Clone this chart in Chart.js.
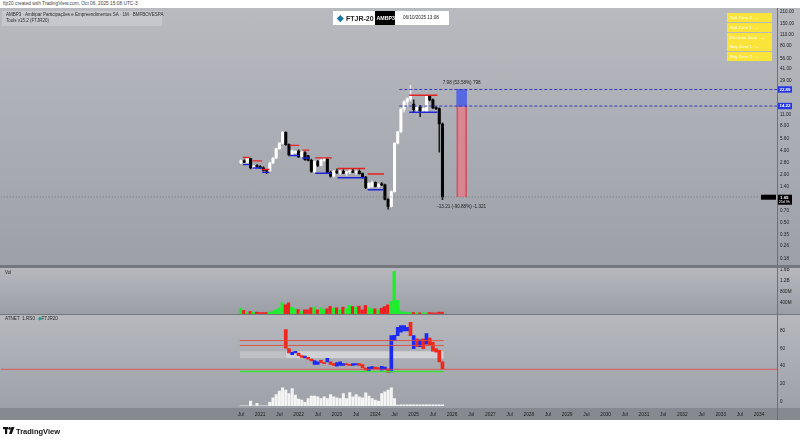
<!DOCTYPE html>
<html><head><meta charset="utf-8">
<script src="https://cdn.jsdelivr.net/npm/chart.js@4.4.1/dist/chart.umd.min.js"></script>
<style>
html,body{margin:0;padding:0;}
body{width:800px;height:442px;position:relative;overflow:hidden;background:#fff;font-family:"Liberation Sans",Arial,sans-serif;}
#frame{position:absolute;left:0;top:8px;width:800px;height:412px;background:#76787f;}
canvas{position:absolute;left:0;display:block;}
#cMain{top:8px;background:linear-gradient(#b8bac0,#9da0a7);}
#cVol{top:268px;background:linear-gradient(#b6b8be,#9b9ea5);}
#cInd{top:315px;background:linear-gradient(#b6b8be 0px,#9ea1a8 93px,#86898f 93px,#86898f 105px);}
.t{position:absolute;white-space:nowrap;line-height:1;}
#axisline{position:absolute;left:777px;top:408px;width:1px;height:12px;background:#6c6f76;}
.yz{position:absolute;left:727px;width:45px;height:9px;background:#fbe43a;color:#fff;font-size:4.3px;line-height:9px;padding-left:3px;box-sizing:border-box;}
</style></head><body>
<div id="frame"></div>
<canvas id="cMain" width="800" height="257" style="width:800px;height:257px"></canvas>
<canvas id="cVol" width="800" height="46" style="width:800px;height:46px"></canvas>
<canvas id="cInd" width="800" height="105" style="width:800px;height:105px"></canvas>
<div id="axisline"></div>

<div class="t" style="left:3px;top:1.5px;font-size:4.8px;color:#444;">ftjr20 created with TradingView.com, Oct 06, 2025 15:08 UTC-3</div>
<div style="position:absolute;left:2px;top:11px;width:160px;height:15px;background:rgba(255,255,255,0.22);"></div>
<div class="t" style="left:6px;top:13px;font-size:4.5px;color:#2a2a2a;">AMBP3 · Ambipar Participações e Empreendimentos SA · 1M · BMFBOVESPA</div>
<div class="t" style="left:6px;top:19px;font-size:4.5px;color:#2a2a2a;">Tools v15.2 (FTJR20)</div>

<div style="position:absolute;left:333px;top:11px;width:42px;height:14px;background:#fff;"></div>
<div style="position:absolute;left:338px;top:15.5px;width:4.5px;height:4.5px;background:#1b7aa3;transform:rotate(45deg);"></div>
<div class="t" style="left:346px;top:14.5px;font-size:7px;font-weight:bold;color:#222;">FTJR-20</div>
<div style="position:absolute;left:375px;top:11px;width:20px;height:14px;background:#000;"></div>
<div class="t" style="left:376.5px;top:15.5px;font-size:5.3px;font-weight:bold;color:#fff;">AMBP3</div>
<div style="position:absolute;left:395px;top:11px;width:54px;height:14px;background:#fff;"></div>
<div class="t" style="left:403px;top:16px;font-size:4.6px;color:#222;">06/10/2025 13:08</div>

<div class="yz" style="top:13px;">Sell Zone 2 : --</div>
<div class="yz" style="top:23px;">Sell Zone 1 : --</div>
<div class="yz" style="top:32.5px;">Decision Zone : --</div>
<div class="yz" style="top:42px;">Buy Zone 1 : --</div>
<div class="yz" style="top:52px;">Buy Zone 2 : --</div>

<div class="t" style="left:5px;top:271px;font-size:4.6px;color:#2a2a2a;">Vol</div>
<div class="t" style="left:5px;top:317px;font-size:4.6px;color:#2a2a2a;">ATNET &nbsp;1.RS0 &nbsp;<span style="color:#1b9a8a;">◆</span>FTJR20</div>

<svg style="position:absolute;left:3px;top:427px;" width="12" height="8" viewBox="0 0 12 8"><rect x="0" y="0" width="5" height="2.2" fill="#111"/><rect x="2" y="0" width="2.2" height="7" fill="#111"/><circle cx="6.6" cy="1.4" r="1.3" fill="#111"/><polygon points="8.5,0 11.5,0 8.8,7 6,7" fill="#111"/></svg>
<div class="t" style="left:16px;top:427.5px;font-size:7.5px;font-weight:bold;color:#111;">TradingView</div>

<script>
// ---------- DATA ----------
const firstMonth = 6; // Jul 2020 (months since Jan 2020)
const open  = [2.78,2.95,2.85,3.15,2.42,2.55,2.50,2.42,2.25,2.22,2.78,3.20,4.20,4.90,6.70,4.70,3.50,3.72,3.90,3.35,3.75,3.40,3.00,2.18,2.90,2.60,3.00,3.10,2.12,1.90,2.20,2.10,2.18,2.08,2.15,2.20,2.12,2.18,2.05,1.85,1.38,1.42,1.60,1.42,1.50,1.48,0.98,0.80,1.22,4.90,6.80,13.0,16.0,17.5,15.0,12.8,13.8,12.5,12.2,19.0,17.0,13.5,13.2,8.50];
const high  = [3.05,3.05,3.30,3.20,2.60,2.65,2.58,2.48,2.30,2.85,3.25,4.25,4.95,6.90,6.80,4.80,4.05,3.95,4.05,3.90,3.85,3.45,3.10,2.95,3.00,3.10,3.24,3.15,2.20,2.25,2.35,2.25,2.30,2.20,2.30,2.35,2.25,2.28,2.10,1.90,1.58,1.65,1.62,1.55,1.58,1.52,1.00,1.25,4.95,6.90,13.5,16.8,18.0,25.8,17.0,14.5,14.5,13.5,19.5,19.4,17.5,14.0,13.5,8.80];
const low   = [2.72,2.80,2.80,2.35,2.35,2.45,2.38,2.20,2.05,2.18,2.70,3.15,4.10,4.80,4.60,3.40,3.40,3.65,3.25,3.30,3.00,2.95,2.12,2.10,2.50,2.55,2.90,2.08,1.85,1.85,2.05,2.00,2.05,1.95,2.05,2.10,2.00,2.02,1.80,1.33,1.35,1.38,1.40,1.38,1.45,0.96,0.74,0.78,1.20,4.80,6.60,12.0,14.0,16.5,12.0,11.8,10.5,11.8,12.0,16.5,13.2,12.8,3.80,0.97];
const close = [2.98,2.85,3.20,2.42,2.55,2.50,2.42,2.25,2.20,2.78,3.20,4.20,4.90,6.70,4.70,3.50,3.95,3.88,3.30,3.80,3.05,3.00,2.18,2.90,2.60,3.00,3.10,2.12,1.90,2.20,2.10,2.18,2.08,2.15,2.20,2.12,2.18,2.05,1.85,1.38,1.55,1.60,1.42,1.50,1.48,0.98,0.80,1.22,4.90,6.80,13.0,16.0,17.5,19.0,12.8,13.8,12.5,13.2,19.0,17.0,13.5,13.2,8.50,1.05];
const volumeM = [194,109,48,73,48,48,36,36,36,48,73,133,194,388,316,388,230,170,145,73,133,133,206,230,133,206,145,170,255,194,206,133,230,170,291,255,230,267,133,291,206,170,170,133,194,255,316,437,1529,473,73,48,48,36,36,36,24,24,24,36,24,24,48,48];
const oscOpen  = [null,null,null,null,null,null,null,null,null,null,null,null,null,null,81.5,60,53,55,55,52,49.5,50,48,42,42,46.6,44,45,45,43,40,41,41,43,42,41,41.5,43,42,38,35,37,39,38.5,35.5,36,37,33.5,69,74.7,78.5,80,80,89.7,60,71,62,71,65,72,67,60,58,45];
const oscClose = [null,null,null,null,null,null,null,null,null,null,null,null,null,null,60.5,55,56,57,52,50,51.5,48,46,46.5,45,44,43,49,42,41,44,45,43,41.5,41,43,43,41,38,35.5,39,39.5,37,37,40,39,33,74.7,75,84,86,86,84,74.7,74.7,62,70,60,77,64,57,56,45,37];
const histo = [0,0,0,4.7,0,2.3,0,0,0,3.3,8,11.3,14.7,18,15.7,12.3,17.3,10.7,6.7,5.7,3.3,7.3,9.7,9.7,9,7.3,9,7.3,11.3,9,8,7.3,12.3,7.3,13.3,9,11.3,9,8,13,9.7,7.3,5.7,4.7,12.3,14,15.7,18,7.3,0.7,1,1,1,1,1,1,1,1,1,1,1,1,1,1];
const priceTicks = [210,150,110,80,56,41,29,11,8,5.6,4,2.8,2,1.4,0.7,0.5,0.35,0.26,0.18];
const volTicks = [400,800,1200,1600];
const oscTicks = [0,20,40,60,80];
const xTickVals = []; for (let m = 6; m <= 168; m += 6) xTickVals.push(m);
// support/resistance zones (candle index ranges)
const zoneStart  = [1.0,4.0,7.0,15.6,19.6,23.6,30.6,40.0,53.0];
const zoneEnd    = [2.3,6.2,8.5,17.8,21.0,28.0,38.4,44.3,61.0];
const zoneTop    = [3.25,2.95,2.30,4.60,4.02,3.22,2.37,2.03,19.4];
const zoneBottom = [2.65,2.41,2.12,3.45,3.20,2.07,1.82,1.29,11.9];
const levels = [22.89,14.22];
const levelStartIdx = 50;
const projMonth = 75;
const projUpText = '7.98 (53.58%) 798';
const projDownText = '-13.21 (-90.88%) -1.321';
const countdown = '25d 9h';
const oscUpperLines = [69,63.5];
const oscBandLo = 49, oscBandHi = 57, oscBandSplit = 14;
const oscGreenLevel = 34, oscRedLevel = 36.5;

// ---------- HELPERS ----------
const X_MIN = -69.14, X_MAX = 173.6;
const N = open.length;
const xs = open.map((_, i) => firstMonth + i);
const up = open.map((o, i) => close[i] >= o);
const F = '"Liberation Sans", Arial, sans-serif';
const noAnim = {responsive:false, animation:false, devicePixelRatio:1, events:[],
  layout:{padding:0}, plugins:{legend:{display:false}, tooltip:{enabled:false}}};
function hiddenX(){ return {type:'linear', min:X_MIN, max:X_MAX, offset:false, display:false}; }
function rightY(extra){
  return Object.assign({position:'right', offset:false,
    afterFit:s => { s.width = 23; s.paddingTop = 0; s.paddingBottom = 0; },
    grid:{display:false, drawTicks:false}, border:{display:true, color:'#6c6f76', width:1},
    ticks:{autoSkip:false, padding:3, color:'#1c1c1c', font:{family:F, size:4.6}}}, extra);
}
function seg(x0, x1, y, color, w, dash, order){
  return {type:'line', data:[{x:x0,y:y},{x:x1,y:y}], borderColor:color, borderWidth:w,
    borderDash:dash||[], pointRadius:0, fill:false, order:order||1, tension:0};
}

// ---------- MAIN PRICE PANE ----------
const mainDs = [];
zoneStart.forEach((s, k) => {
  mainDs.push(seg(firstMonth + zoneStart[k] - 0.4, firstMonth + zoneEnd[k] + 0.4, zoneTop[k], '#e3231f', 1.4));
  mainDs.push(seg(firstMonth + zoneStart[k] - 0.4, firstMonth + zoneEnd[k] + 0.4, zoneBottom[k], '#2121dc', 1.4));
});
levels.forEach(v => mainDs.push(seg(firstMonth + levelStartIdx - 0.5, X_MAX, v, '#2b2bb0', 0.9, [3,2])));
mainDs.push(seg(X_MIN, X_MAX, close[N-1], '#5d6068', 0.7, [1,2]));
mainDs.push({type:'bar', data:[{x:projMonth, y:[levels[1], levels[0]]}], backgroundColor:'rgba(72,92,232,0.85)',
  borderColor:'#4a5ae0', borderWidth:0, barThickness:10, grouped:false, order:4});
mainDs.push({type:'bar', data:[{x:projMonth, y:[close[N-1], levels[1]]}], backgroundColor:'rgba(226,126,138,0.8)',
  borderColor:'#c45566', borderWidth:{left:1.5,right:1.5,top:0,bottom:0}, borderSkipped:false, barThickness:10, grouped:false, order:4});
mainDs.push({type:'bar', data:xs.map((x, i) => ({x, y:[low[i], high[i]]})),
  backgroundColor:up.map(u => u ? '#e9e9e9' : '#1a1a1a'), barThickness:0.9, grouped:false, order:6});
mainDs.push({type:'bar', data:xs.map((x, i) => ({x, y:[open[i], close[i]]})),
  backgroundColor:up.map(u => u ? '#ffffff' : '#050505'), barThickness:2.4, minBarLength:1, grouped:false, order:5});

function box(ctx, x, y, w, h, bg){ ctx.fillStyle = bg; ctx.fillRect(x, y, w, h); }
const mainLabels = {id:'mainLabels', afterDraw(c){
  const ctx = c.ctx, ys = c.scales.y, xsc = c.scales.x, ca = c.chartArea;
  ctx.save();
  ctx.textBaseline = 'middle';
  levels.forEach(v => {
    const py = ys.getPixelForValue(v);
    box(ctx, ca.right + 1, py - 3.2, 14, 6.4, '#2536e6');
    ctx.fillStyle = '#fff'; ctx.font = 'bold 4.4px ' + F; ctx.textAlign = 'left';
    ctx.fillText(v.toFixed(2), ca.right + 2.5, py + 0.2);
  });
  const last = close[N-1], pl = ys.getPixelForValue(last);
  box(ctx, ca.right + 1, pl - 2.2, 14, 10, '#000');
  ctx.fillStyle = '#fff'; ctx.font = 'bold 4.4px ' + F; ctx.textAlign = 'left';
  ctx.fillText(last.toFixed(2), ca.right + 3, pl + 0.6);
  ctx.font = '3.6px ' + F; ctx.fillText(countdown, ca.right + 1.8, pl + 5.3);
  box(ctx, ca.right - 16, pl - 2.2, 15, 5, '#000');
  ctx.font = 'bold 3.6px ' + F; ctx.fillText('AMBP3', ca.right - 15, pl + 0.4);
  const px = xsc.getPixelForValue(projMonth);
  ctx.fillStyle = '#222'; ctx.font = '4.6px ' + F; ctx.textAlign = 'center';
  ctx.fillText(projUpText, px, ys.getPixelForValue(levels[0]) - 7);
  ctx.fillText(projDownText, px, pl + 10);
  ctx.restore();
}};
new Chart(document.getElementById('cMain'), {type:'bar', data:{datasets:mainDs},
  options:Object.assign({}, noAnim, {scales:{x:hiddenX(),
    y:rightY({type:'logarithmic', min:0.152, max:232,
      afterBuildTicks:s => { s.ticks = priceTicks.map(v => ({value:v})); }})}}),
  plugins:[mainLabels]});
Chart.getChart('cMain').options.scales.y.ticks.callback = v => Number(v).toFixed(2);
Chart.getChart('cMain').update();

// ---------- VOLUME PANE ----------
new Chart(document.getElementById('cVol'), {type:'bar',
  data:{datasets:[{data:xs.map((x, i) => ({x, y:volumeM[i]})),
    backgroundColor:up.map(u => u ? '#19f02a' : '#f21d1d'), barThickness:2.6, grouped:false}]},
  options:Object.assign({}, noAnim, {scales:{x:hiddenX(),
    y:rightY({type:'linear', min:-18, max:1654,
      afterBuildTicks:s => { s.ticks = volTicks.map(v => ({value:v})); }})}})});
Chart.getChart('cVol').options.scales.y.ticks.callback = v => v >= 1000 ? (v/1000) + 'B' : v + 'M';
Chart.getChart('cVol').update();

// ---------- OSCILLATOR PANE ----------
const i0 = firstMonth - 0.4, i1 = firstMonth + N - 1 + 0.4, iS = firstMonth + oscBandSplit;
const indDs = [
  seg(i0, i1, oscUpperLines[0], '#e24a40', 0.9),
  seg(i0, i1, oscUpperLines[1], '#e24a40', 0.9),
  {type:'line', data:[{x:i0,y:oscBandHi},{x:iS,y:oscBandHi}], borderWidth:0, pointRadius:0, fill:false, order:8},
  {type:'line', data:[{x:i0,y:oscBandLo},{x:iS,y:oscBandLo}], borderWidth:0, pointRadius:0, fill:'-1', backgroundColor:'rgba(255,255,255,0.22)', order:8},
  {type:'line', data:[{x:iS,y:oscBandHi},{x:i1,y:oscBandHi}], borderWidth:0, pointRadius:0, fill:false, order:8},
  {type:'line', data:[{x:iS,y:oscBandLo},{x:i1,y:oscBandLo}], borderWidth:0, pointRadius:0, fill:'-1', backgroundColor:'rgba(255,255,255,0.45)', order:8},
  seg(X_MIN, X_MAX, oscRedLevel, '#e04848', 0.8),
  seg(i0, i1, oscGreenLevel, '#38e038', 1.4),
  {type:'bar', data:xs.map((x, i) => oscOpen[i] == null ? null : ({x, y:[oscOpen[i], oscClose[i]]})).filter(d => d),
    backgroundColor:xs.map((x, i) => oscOpen[i] == null ? null : (oscClose[i] >= oscOpen[i] ? '#1c2af5' : '#f0281c')).filter(d => d),
    barThickness:3, minBarLength:1, grouped:false, order:3},
  {type:'bar', yAxisID:'yH', data:xs.map((x, i) => ({x, y:histo[i]})), backgroundColor:'#f4f4f4',
    barThickness:2.4, grouped:false, order:3}
];
new Chart(document.getElementById('cInd'), {type:'bar', data:{datasets:indDs},
  options:Object.assign({}, noAnim, {scales:{
    x:{type:'linear', min:X_MIN, max:X_MAX, offset:false, position:'bottom',
      afterBuildTicks:s => { s.ticks = xTickVals.map(v => ({value:v})); },
      afterFit:s => { s.height = 12; s.paddingLeft = 0; s.paddingRight = 0; },
      grid:{display:false, drawTicks:false}, border:{display:false},
      ticks:{autoSkip:false, maxRotation:0, minRotation:0, padding:3.5, color:'#1c1c1c', font:{family:F, size:4.8}}},
    y:rightY({type:'linear', min:-7.3, max:97.2,
      afterBuildTicks:s => { s.ticks = oscTicks.map(v => ({value:v})); }}),
    yH:{type:'linear', display:false, min:-2.3, max:90.7}}})});
const ic = Chart.getChart('cInd');
ic.options.scales.x.ticks.callback = v => (v % 12 === 6 ? 'Jul' : String(2020 + v / 12));
ic.update();
</script>
</body></html>
